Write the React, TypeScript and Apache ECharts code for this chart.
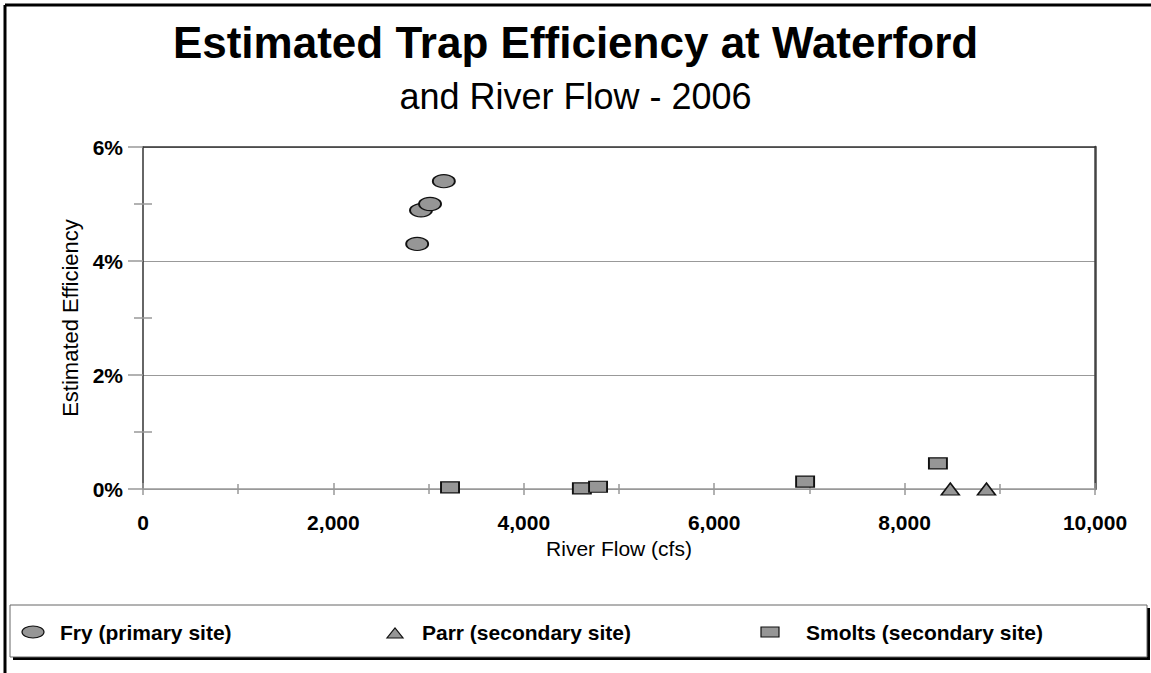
import React, { useEffect, useRef } from "react";
import * as echarts from "echarts";

const titleText = "Estimated Trap Efficiency at Waterford";
const subtitleText = "and River Flow - 2006";
const xAxisName = "River Flow (cfs)";
const yAxisName = "Estimated Efficiency";
const seriesNames = ["Fry (primary site)", "Parr (secondary site)", "Smolts (secondary site)"];

const xMin = 0;
const xMax = 10000;
const xStep = 2000;
const yMin = 0;
const yMax = 6;
const yStep = 2;

const fryFlow = [2880, 2920, 3015, 3160];
const fryEff = [4.3, 4.89, 5.0, 5.4];
const parrFlow = [8480, 8860];
const parrEff = [0, 0];
const smoltsFlow = [3225, 4610, 4780, 6955, 8350];
const smoltsEff = [0.03, 0.01, 0.04, 0.13, 0.45];

const FONT = "'Liberation Sans', Arial, Helvetica, sans-serif";
const MARK_FILL = "#969696";
const MARK_BORDER = "#111";

function pairs(xs: number[], ys: number[]) {
  return xs.map((x, i) => [x, ys[i]]);
}

export default function App() {
  const ref = useRef<HTMLDivElement>(null);

  useEffect(() => {
    if (!ref.current) return;
    const chart = echarts.init(ref.current, null, { renderer: "svg" });
    const hidden = { show: false };
    const option: any = {
      animation: false,
      backgroundColor: "#fff",
      textStyle: { fontFamily: FONT },
      title: [
        {
          text: titleText,
          left: "center",
          top: 15,
          textStyle: { fontFamily: FONT, fontSize: 44, fontWeight: "bold", color: "#000" },
        },
        {
          text: subtitleText,
          left: "center",
          top: 73,
          textStyle: { fontFamily: FONT, fontSize: 36, fontWeight: "normal", color: "#000" },
        },
      ],
      grid: { left: 143, top: 147, width: 952, height: 342, containLabel: false },
      xAxis: [
        {
          type: "value",
          position: "bottom",
          min: xMin,
          max: xMax,
          interval: xStep,
          axisLine: { show: true, onZero: false, lineStyle: { color: "#999", width: 1.5 } },
          axisTick: { show: true, length: 6, lineStyle: { color: "#999", width: 1.5 } },
          minorTick: { show: true, splitNumber: 2, length: 5, lineStyle: { color: "#999", width: 1.5 } },
          axisLabel: {
            formatter: (v: number) => v.toLocaleString("en-US"),
            fontFamily: FONT,
            fontSize: 21,
            fontWeight: "bold",
            color: "#000",
            margin: 23,
          },
          splitLine: hidden,
          name: xAxisName,
          nameLocation: "middle",
          nameGap: 48,
          nameTextStyle: { fontFamily: FONT, fontSize: 21, color: "#000" },
        },
        {
          type: "value",
          position: "bottom",
          min: xMin,
          max: xMax,
          interval: xStep,
          axisLine: { show: false, onZero: false },
          axisTick: { show: true, inside: true, length: 6, lineStyle: { color: "#999", width: 1.5 } },
          minorTick: { show: true, splitNumber: 2, length: 5, lineStyle: { color: "#999", width: 1.5 } },
          axisLabel: hidden,
          splitLine: hidden,
        },
        {
          type: "value",
          position: "top",
          min: xMin,
          max: xMax,
          interval: xStep,
          axisLine: { show: true, onZero: false, lineStyle: { color: "#333", width: 1.5 } },
          axisTick: hidden,
          axisLabel: hidden,
          splitLine: hidden,
        },
      ],
      yAxis: [
        {
          type: "value",
          position: "left",
          min: yMin,
          max: yMax,
          interval: yStep,
          axisLine: { show: true, onZero: false, lineStyle: { color: "#333", width: 1.5 } },
          axisTick: { show: true, length: 15, lineStyle: { color: "#999", width: 1.5 } },
          minorTick: { show: true, splitNumber: 2, length: 9, lineStyle: { color: "#999", width: 1.5 } },
          axisLabel: {
            formatter: (v: number) => v + "%",
            fontFamily: FONT,
            fontSize: 21,
            fontWeight: "bold",
            color: "#000",
            margin: 20,
          },
          splitLine: { show: true, lineStyle: { color: "#999", width: 1 } },
          name: yAxisName,
          nameLocation: "middle",
          nameGap: 55,
          nameTextStyle: { fontFamily: FONT, fontSize: 22, color: "#000" },
        },
        {
          type: "value",
          position: "left",
          min: yMin,
          max: yMax,
          interval: yStep,
          axisLine: { show: false, onZero: false },
          axisTick: { show: false, inside: true },
          minorTick: { show: true, splitNumber: 2, length: 9, lineStyle: { color: "#999", width: 1.5 } },
          axisLabel: hidden,
          splitLine: hidden,
        },
        {
          type: "value",
          position: "right",
          min: yMin,
          max: yMax,
          interval: yStep,
          axisLine: { show: true, onZero: false, lineStyle: { color: "#444", width: 2.5 } },
          axisTick: hidden,
          axisLabel: hidden,
          splitLine: hidden,
        },
      ],
      series: [
        {
          name: seriesNames[0],
          type: "scatter",
          xAxisIndex: 0,
          yAxisIndex: 0,
          symbol: "circle",
          symbolSize: [22, 13],
          itemStyle: { color: MARK_FILL, borderColor: MARK_BORDER, borderWidth: 1.5, opacity: 1 },
          data: pairs(fryFlow, fryEff),
          z: 5,
        },
        {
          name: seriesNames[1],
          type: "scatter",
          xAxisIndex: 0,
          yAxisIndex: 0,
          symbol: "triangle",
          symbolSize: [18, 12],
          itemStyle: { color: MARK_FILL, borderColor: MARK_BORDER, borderWidth: 1.5, opacity: 1 },
          data: pairs(parrFlow, parrEff),
          z: 5,
        },
        {
          name: seriesNames[2],
          type: "scatter",
          xAxisIndex: 0,
          yAxisIndex: 0,
          symbol: "rect",
          symbolSize: [18, 11],
          itemStyle: { color: MARK_FILL, borderColor: MARK_BORDER, borderWidth: 1.5, opacity: 1 },
          data: pairs(smoltsFlow, smoltsEff),
          z: 5,
        },
      ],
      graphic: [
        { type: "line", shape: { x1: 5, y1: 5, x2: 1151, y2: 5 }, style: { stroke: "#000", lineWidth: 3 } },
        { type: "line", shape: { x1: 5, y1: 5, x2: 5, y2: 673 }, style: { stroke: "#000", lineWidth: 3 } },
        { type: "rect", shape: { x: 13, y: 608, width: 1137, height: 52 }, style: { fill: "#000" } },
        { type: "rect", shape: { x: 10, y: 605, width: 1137, height: 52 }, style: { fill: "#fff", stroke: "#666", lineWidth: 1 } },
        { type: "ellipse", shape: { cx: 33, cy: 632, rx: 11, ry: 6 }, style: { fill: MARK_FILL, stroke: MARK_BORDER, lineWidth: 1.2 } },
        {
          type: "text",
          x: 60,
          y: 632,
          style: { text: seriesNames[0], font: `bold 21px ${FONT}`, fill: "#000", verticalAlign: "middle", align: "left" },
        },
        {
          type: "polygon",
          shape: { points: [[387, 638], [403, 638], [395, 628]] },
          style: { fill: MARK_FILL, stroke: MARK_BORDER, lineWidth: 1.2 },
        },
        {
          type: "text",
          x: 422,
          y: 632,
          style: { text: seriesNames[1], font: `bold 21px ${FONT}`, fill: "#000", verticalAlign: "middle", align: "left" },
        },
        { type: "rect", shape: { x: 761, y: 627, width: 18, height: 10 }, style: { fill: MARK_FILL, stroke: MARK_BORDER, lineWidth: 1.2 } },
        {
          type: "text",
          x: 806,
          y: 632,
          style: { text: seriesNames[2], font: `bold 21px ${FONT}`, fill: "#000", verticalAlign: "middle", align: "left" },
        },
      ],
    };
    chart.setOption(option);
    return () => chart.dispose();
  }, []);

  return (
    <div
      ref={ref}
      style={{ position: "absolute", left: 0, top: 0, width: 1151, height: 673, background: "#fff" }}
    />
  );
}
